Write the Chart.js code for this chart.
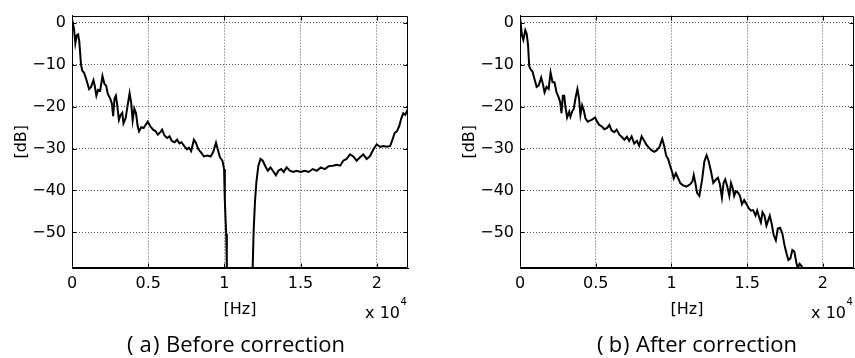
<!DOCTYPE html>
<html>
<head>
<meta charset="utf-8">
<script src="https://cdn.jsdelivr.net/npm/chart.js@4.4.0/dist/chart.umd.min.js"></script>
<style>
  html, body { margin: 0; padding: 0; background: #fff; }
  #wrap { position: relative; width: 855px; height: 358px; overflow: hidden; }
  .box { position: absolute; top: 0; height: 358px; }
  #boxA { left: 0; width: 430px; }
  #boxB { left: 430px; width: 425px; }
</style>
</head>
<body>
<div id="wrap">
  <div class="box" id="boxA"><canvas id="chartA" width="430" height="358"></canvas></div>
  <div class="box" id="boxB"><canvas id="chartB" width="425" height="358"></canvas></div>
</div>
<script>
// axis setup
const xTicks = [0, 5000, 10000, 15000, 20000];
const yTicks = [0, -10, -20, -30, -40, -50];
const xMax = 22050;
const yMin = -58.5;
const yMax = 1.7;

// (a) before correction
const freqA = [0,130,220,310,400,480,590,680,790,970,
  1120,1250,1410,1490,1600,1710,1850,2000,2130,2240,
  2350,2510,2620,2700,2790,2880,2970,3080,3190,3300,
  3380,3520,3650,3780,3890,3980,4090,4200,4310,4400,
  4550,4700,4970,5140,5320,5490,5630,5800,5910,6070,
  6240,6400,6550,6730,6900,7050,7190,7360,7540,7670,
  7820,8000,8130,8290,8480,8660,8880,9100,9270,9450,
  9580,9710,9870,9980,10030,10120,10160,10200,11000,11820,
  11860,11920,12010,12100,12230,12370,12520,12670,12850,13030,
  13180,13380,13550,13730,13900,14080,14300,14520,14740,15000,
  15270,15530,15800,16060,16330,16590,16850,17120,17380,17600,
  17800,18020,18240,18460,18680,18900,19120,19340,19560,19780,
  20000,20220,20440,20660,20880,21030,21170,21320,21470,21610,
  21740,21870,22000,22050];
const dbA = [0.9,-1.4,-4.9,-3.0,-2.8,-4.5,-10,-11.5,-11.9,-13.9,
  -15.8,-15.3,-13.7,-15,-17.4,-16,-16.2,-12.7,-14.6,-15,
  -17,-18.1,-19.3,-22.3,-18.1,-17.4,-19.7,-23.2,-22,-21.5,
  -24,-22.8,-19.7,-16.8,-19.3,-23.3,-20.5,-21.6,-24.7,-25.9,
  -24.9,-25.1,-23.6,-24.7,-25.5,-25.9,-26.7,-26.1,-25.5,-26.9,
  -27.5,-27.1,-28.2,-28.5,-27.9,-28.8,-28.5,-29.4,-30.2,-29.8,
  -30.6,-27.9,-28.6,-30.2,-31,-31.9,-31.7,-31.9,-30.8,-28.6,
  -30.4,-32.1,-32.9,-34.9,-42.6,-50.4,-58.2,-75,-90,-75,
  -58.2,-49.6,-42.6,-38,-34.1,-32.5,-32.9,-34.1,-35.3,-34.5,
  -35.3,-36.4,-35.3,-34.9,-35.6,-34.5,-35.3,-35.6,-35.3,-35.6,
  -35.3,-35.6,-34.9,-35.3,-34.5,-34.9,-34.2,-34.1,-33.9,-34.1,
  -32.9,-32.5,-31.4,-31.9,-32.9,-32.1,-31.4,-32.5,-31.8,-30.2,
  -29.0,-29.6,-29.4,-29.6,-29.4,-27.9,-26.3,-25.9,-24.7,-22.8,
  -21.6,-22.0,-20.9,-20.5];

// (b) after correction
const freqB = [0,130,220,350,440,530,610,700,830,960,
  1100,1230,1400,1510,1620,1750,1890,2020,2150,2280,
  2410,2540,2650,2740,2830,2920,3000,3110,3250,3330,
  3440,3550,3680,3790,3900,3990,4100,4210,4320,4470,
  4650,4800,4960,5090,5240,5390,5570,5750,5900,6050,
  6230,6380,6560,6710,6890,7060,7210,7370,7540,7720,
  7870,8030,8160,8330,8510,8680,8860,9040,9210,9390,
  9520,9650,9780,9910,10070,10150,10290,10440,10590,10770,
  10990,11210,11380,11470,11560,11690,11840,12020,12170,12320,
  12460,12610,12760,12940,13070,13200,13330,13440,13550,13680,
  13820,13930,14040,14140,14250,14390,14520,14650,14800,14960,
  15090,15240,15390,15550,15660,15790,15900,16010,16140,16270,
  16380,16490,16620,16750,16890,17020,17170,17320,17460,17590,
  17720,17850,17980,18110,18250,18330,18460,18600,18680,19000,
  20000,22050];
const dbB = [1.3,-3.0,-4.1,-1.8,-2.6,-5.3,-10.4,-11.1,-11.7,-13.5,
  -15.3,-15,-13.1,-14.6,-16.6,-15.3,-15.8,-11.9,-14.2,-14.2,
  -16.6,-17.7,-18.9,-21.6,-17.4,-17.4,-20.1,-22.6,-21.2,-22.4,
  -21.2,-20.5,-17.7,-15.8,-18.1,-22,-19.7,-20.9,-22.8,-23.6,
  -23.3,-23,-22.6,-23.6,-24.4,-24.7,-25.4,-25.1,-24.4,-25.7,
  -26.1,-25.5,-26.7,-27.2,-27.9,-27.2,-28.2,-27.1,-28.8,-28.2,
  -29.3,-27.1,-27.9,-29,-29.8,-30.4,-30.8,-30.4,-29.6,-27.7,
  -29.4,-31.7,-32.5,-34.1,-35.9,-37.1,-35.9,-37.1,-38.3,-38.8,
  -39.1,-38.6,-37.9,-36.3,-37.9,-40.6,-41.3,-37.5,-33.1,-31.6,
  -33.1,-35.5,-38.2,-37.4,-37,-38.6,-41.7,-38.2,-37.4,-39,
  -41.3,-38.2,-39.4,-41.3,-40.2,-40.5,-41.3,-43.3,-42.3,-43.3,
  -44.2,-44.8,-44.7,-46,-44.8,-46.4,-47.6,-45.2,-46,-48.4,
  -47.2,-46,-48,-50.7,-51.9,-49.1,-48.9,-50.3,-53,-55,
  -56.6,-56.2,-54.2,-54.6,-57.3,-58.5,-57.5,-58.1,-58.9,-62,
  -66,-72];

const axisFamily = "'DejaVu Sans', Arial, sans-serif";
const tickFont = { family: axisFamily, size: 16 };

// MATLAB-like box: full frame, inward ticks, axis texts and caption
const matlabFrame = {
    id: 'matlabFrame',
    afterDraw(chart, args, opts) {
        const ctx = chart.ctx;
        const a = chart.chartArea;
        const sx = chart.scales.x, sy = chart.scales.y;
        const L = Math.round(a.left) + 0.5, R = Math.round(a.right) - 0.5;
        const T = Math.round(a.top) + 0.5, B = Math.round(a.bottom) - 0.5;
        ctx.save();
        ctx.strokeStyle = '#000';
        ctx.lineWidth = 1;
        ctx.beginPath();
        ctx.moveTo(L, T); ctx.lineTo(R, T); ctx.lineTo(R, B); ctx.lineTo(L, B); ctx.closePath();
        xTicks.forEach(v => {
            const px = Math.round(sx.getPixelForValue(v)) + 0.5;
            ctx.moveTo(px, B); ctx.lineTo(px, B - 4);
            ctx.moveTo(px, T); ctx.lineTo(px, T + 4);
        });
        yTicks.forEach(v => {
            const py = Math.round(sy.getPixelForValue(v)) + 0.5;
            ctx.moveTo(L, py); ctx.lineTo(L + 4, py);
            ctx.moveTo(R, py); ctx.lineTo(R - 4, py);
        });
        ctx.stroke();

        ctx.fillStyle = '#000';
        ctx.font = '16px ' + axisFamily;
        // [dB]
        ctx.save();
        ctx.translate(a.left - 50, (a.top + a.bottom) / 2);
        ctx.rotate(-Math.PI / 2);
        ctx.textAlign = 'center';
        ctx.textBaseline = 'middle';
        ctx.fillText('[dB]', 0, 0);
        ctx.restore();
        // [Hz]
        ctx.textAlign = 'center';
        ctx.textBaseline = 'alphabetic';
        ctx.fillText('[Hz]', (a.left + a.right) / 2, a.bottom + 46);
        // x 10^4
        ctx.textAlign = 'right';
        ctx.fillText('x 10', a.right - 8, a.bottom + 50);
        ctx.font = '10px ' + axisFamily;
        ctx.textAlign = 'left';
        ctx.fillText('4', a.right - 7.5, a.bottom + 37);
        // caption: "(x)" then text
        ctx.font = "22px 'Open Sans', 'Noto Sans', sans-serif";
        const cx = opts.captionX;
        const by = 352;
        ctx.textAlign = 'left';
        ctx.fillText('(', cx, by);
        ctx.textAlign = 'center';
        ctx.fillText(opts.tag, cx + 18.5, by);
        ctx.textAlign = 'left';
        ctx.fillText(')', cx + 26, by);
        ctx.fillText(opts.caption, cx + 39, by);
        ctx.restore();
    }
};

function makeChart(id, freqs, dbs, yWidth, padRight, tag, caption, captionX) {
    const points = freqs.map((f, i) => ({ x: f, y: dbs[i] }));
    const ctx = document.getElementById(id).getContext('2d');
    return new Chart(ctx, {
        type: 'line',
        data: {
            datasets: [{
                data: points,
                borderColor: '#000',
                borderWidth: 2,
                pointRadius: 0,
                tension: 0,
                fill: false
            }]
        },
        options: {
            responsive: false,
            animation: false,
            layout: { padding: { top: 10, right: padRight, left: 0, bottom: 0 } },
            plugins: {
                legend: { display: false },
                tooltip: { enabled: false },
                matlabFrame: { tag: tag, caption: caption, captionX: captionX }
            },
            scales: {
                x: {
                    type: 'linear',
                    min: 0,
                    max: xMax,
                    afterBuildTicks: s => { s.ticks = xTicks.map(v => ({ value: v })); },
                    afterFit: s => { s.height = 90; },
                    ticks: {
                        callback: v => String(v / 10000),
                        font: tickFont,
                        color: '#000',
                        padding: 6,
                        maxRotation: 0,
                        autoSkip: false
                    },
                    grid: { color: 'rgba(0,0,0,0.65)', drawTicks: false, lineWidth: 1 },
                    border: { display: true, color: '#000', width: 1, dash: [1, 2] }
                },
                y: {
                    type: 'linear',
                    min: yMin,
                    max: yMax,
                    afterBuildTicks: s => { s.ticks = yTicks.map(v => ({ value: v })); },
                    afterFit: s => { s.width = yWidth; },
                    ticks: {
                        callback: v => v < 0 ? '\u2212' + (-v) : String(v),
                        font: tickFont,
                        color: '#000',
                        padding: 6,
                        autoSkip: false
                    },
                    grid: { color: 'rgba(0,0,0,0.65)', drawTicks: false, lineWidth: 1 },
                    border: { display: true, color: '#000', width: 1, dash: [1, 2] }
                }
            }
        },
        plugins: [matlabFrame]
    });
}

makeChart('chartA', freqA, dbA, 72, 22, 'a', 'Before correction', 127);
makeChart('chartB', freqB, dbB, 90, 1, 'b', 'After correction', 597 - 430);
</script>
</body>
</html>
